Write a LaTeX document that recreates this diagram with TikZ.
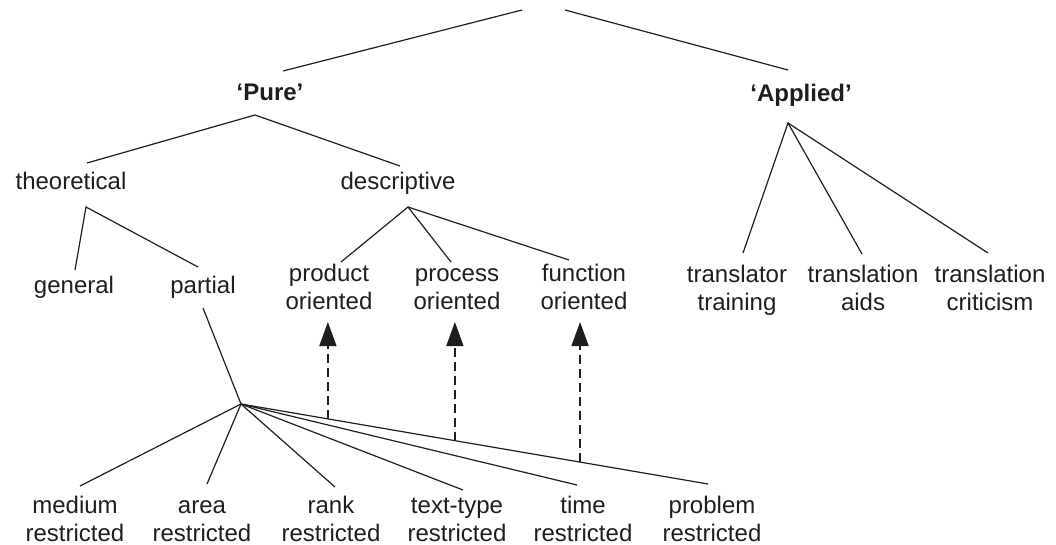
\documentclass[tikz,border=0pt]{standalone}
\usepackage{fontspec}
\setmainfont{Liberation Sans}
\usetikzlibrary{arrows.meta,calc}
\definecolor{ink}{HTML}{1E1E1E}
\newcommand{\twoline}[2]{\begin{tabular}[t]{@{}c@{}}#1\\#2\end{tabular}}
\begin{document}
\begin{tikzpicture}[x=1pt,y=-1pt,
  lbl/.style={inner sep=0pt, anchor=base, font=\fontsize{24}{28}\selectfont, text=ink},
  hd/.style={lbl, font=\fontsize{24}{28}\selectfont\bfseries},
  edge/.style={line width=1.2pt, draw=ink},
  dasharrow/.style={line width=1.5pt, draw=ink, dash pattern=on 9pt off 5pt,
    -{Triangle[width=17pt,length=24pt,fill=ink]}}
]
\useasboundingbox (0,0) rectangle (1056,544);

% labels
\node[hd] (pure) at (270,100) {`Pure'};
\node[hd] (applied) at (801,101) {`Applied'};
\node[lbl] (theo) at (71,189) {theoretical};
\node[lbl] (desc) at (398,189) {descriptive};
\node[lbl] (gen) at (74,293) {general};
\node[lbl] (part) at (203,293) {partial};
\node[lbl] (prod) at (329,281) {\twoline{product}{oriented}};
\node[lbl] (proc) at (457,281) {\twoline{process}{oriented}};
\node[lbl] (func) at (584,281) {\twoline{function}{oriented}};
\node[lbl] (train) at (737,282) {\twoline{translator}{training}};
\node[lbl] (aids) at (863,282) {\twoline{translation}{aids}};
\node[lbl] (crit) at (990,282) {\twoline{translation}{criticism}};
\node[lbl] (med) at (75,513) {\twoline{medium}{restricted}};
\node[lbl] (area) at (202,513) {\twoline{area}{restricted}};
\node[lbl] (rank) at (331,513) {\twoline{rank}{restricted}};
\node[lbl] (ttype) at (457,513) {\twoline{text-type}{restricted}};
\node[lbl] (time) at (583,513) {\twoline{time}{restricted}};
\node[lbl] (prob) at (712,513) {\twoline{problem}{restricted}};

% junctions and line ends
\coordinate (rootL) at (522,10);
\coordinate (rootR) at (565,10);
\coordinate (pureUp) at (283,71);
\coordinate (appUp) at (788,70);
\coordinate (pureJ) at (255,115);
\coordinate (theoUp) at (87,163);
\coordinate (descUp) at (400,166);
\coordinate (theoJ) at (86,207);
\coordinate (genUp) at (75,270);
\coordinate (partUp) at (198,267);
\coordinate (descJ) at (408,207);
\coordinate (prodUp) at (341,262);
\coordinate (procUp) at (451,262);
\coordinate (funcUp) at (569,260);
\coordinate (appJ) at (788,123);
\coordinate (trainUp) at (743,253);
\coordinate (aidsUp) at (862,254);
\coordinate (critUp) at (988,253);
\coordinate (partDown) at (203,308);
\coordinate (J) at (241,404);
\coordinate (medUp) at (80,486);
\coordinate (areaUp) at (207,484);
\coordinate (rankUp) at (335,487);
\coordinate (ttypeUp) at (463,490);
\coordinate (timeUp) at (577,485);
\coordinate (probUp) at (708,484);
\coordinate (d1) at ($(J)!0.186!(probUp)$);
\coordinate (d2) at ($(J)!0.458!(probUp)$);
\coordinate (d3) at ($(J)!0.726!(probUp)$);
\coordinate (t1) at (d1 |- 0,322);
\coordinate (t2) at (d2 |- 0,322);
\coordinate (t3) at (d3 |- 0,322);

% connectors
\draw[edge] (pureUp) -- (rootL);
\draw[edge] (rootR) -- (appUp);
\draw[edge] (theoUp) -- (pureJ) -- (descUp);
\draw[edge] (genUp) -- (theoJ) -- (partUp);
\draw[edge] (prodUp) -- (descJ) -- (procUp);
\draw[edge] (descJ) -- (funcUp);
\draw[edge] (trainUp) -- (appJ) -- (aidsUp);
\draw[edge] (appJ) -- (critUp);
\draw[edge] (partDown) -- (J);
\draw[edge] (J) -- (medUp);
\draw[edge] (J) -- (areaUp);
\draw[edge] (J) -- (rankUp);
\draw[edge] (J) -- (ttypeUp);
\draw[edge] (J) -- (timeUp);
\draw[edge] (J) -- (probUp);
\draw[dasharrow] (d1) -- (t1);
\draw[dasharrow] (d2) -- (t2);
\draw[dasharrow] (d3) -- (t3);
\end{tikzpicture}
\end{document}
